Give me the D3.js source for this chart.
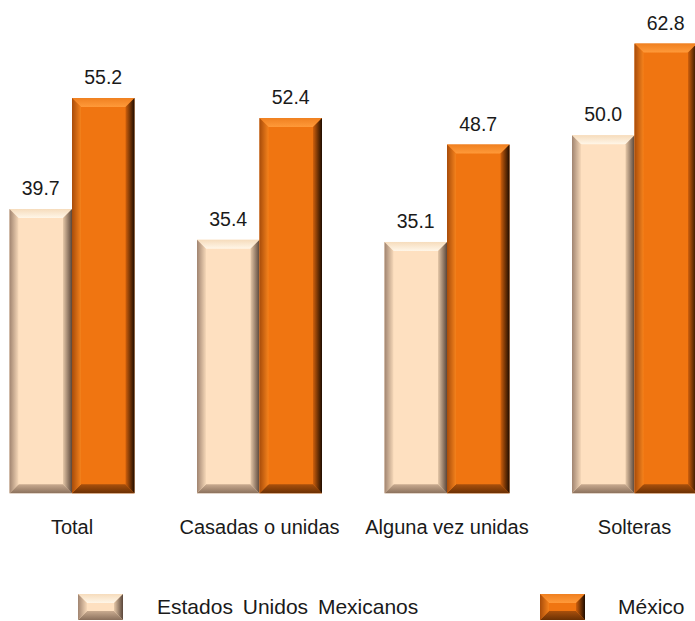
<!DOCTYPE html>
<html><head><meta charset="utf-8">
<script src="https://cdn.jsdelivr.net/npm/d3@7"></script>
<style>
html,body{margin:0;padding:0;background:#fff;}
text{font-family:"Liberation Sans",Arial,sans-serif;fill:#1a1a1a;}
</style></head>
<body>
<svg id="chart" width="695" height="621"></svg>
<script>
const categories = ["Total", "Casadas o unidas", "Alguna vez unidas", "Solteras"];
const seriesNames = ["Estados Unidos Mexicanos", "México"];
const usValues = [39.7, 35.4, 35.1, 50.0];
const mxValues = [55.2, 52.4, 48.7, 62.8];

const W = 695, H = 621;
const svg = d3.select("#chart");
const defs = svg.append("defs");

const palettes = [
  {face:"#fee0c0", top:"#fff6e8", topEdge:"#f6dcbc", left0:"#a08470", left1:"#f6d8b8", right0:"#e6c8a8", right1:"#5a463a", bottom0:"#8a705c", bottom1:"#c9ab90"},
  {face:"#f07511", top:"#ff9a3a", topEdge:"#f08020", left0:"#a84c0a", left1:"#f5821c", right0:"#d0600c", right1:"#1e0c00", bottom0:"#6a3004", bottom1:"#a9500c"}
];

function grad(id, x1,y1,x2,y2, c0, c1){
  const g = defs.append("linearGradient").attr("id", id)
    .attr("x1",x1).attr("y1",y1).attr("x2",x2).attr("y2",y2);
  g.append("stop").attr("offset","0%").attr("stop-color",c0);
  g.append("stop").attr("offset","100%").attr("stop-color",c1);
}
palettes.forEach((p,i)=>{
  grad("L"+i,0,0,1,0,p.left0,p.left1);
  grad("R"+i,0,0,1,0,p.right0,p.right1);
  grad("T"+i,0,0,0,1,p.topEdge,p.top);
  grad("B"+i,0,0,0,1,p.bottom1,p.bottom0);
});

const x0 = d3.scaleBand().domain(categories).range([-21.75, 728.25]);
const x1 = d3.scaleBand().domain(seriesNames)
  .range([x0.bandwidth()/2 - 62.5, x0.bandwidth()/2 + 62.5]);
const y = d3.scaleLinear().domain([0, 62.8]).range([493.3, 43.6]);

function bevelBar(g, x, yTop, w, h, i){
  const b = Math.min(9, h/2);
  const xl = x, xr = x + w, yt = yTop, yb = yTop + h;
  g.append("rect").attr("x",xl).attr("y",yt).attr("width",w).attr("height",h).attr("fill",palettes[i].face);
  g.append("polygon").attr("points",[[xl,yt],[xr,yt],[xr-b,yt+b],[xl+b,yt+b]].join(" ")).attr("fill","url(#T"+i+")");
  g.append("polygon").attr("points",[[xl,yb],[xr,yb],[xr-b,yb-b],[xl+b,yb-b]].join(" ")).attr("fill","url(#B"+i+")");
  g.append("polygon").attr("points",[[xl,yt],[xl+b,yt+b],[xl+b,yb-b],[xl,yb]].join(" ")).attr("fill","url(#L"+i+")");
  g.append("polygon").attr("points",[[xr,yt],[xr-b,yt+b],[xr-b,yb-b],[xr,yb]].join(" ")).attr("fill","url(#R"+i+")");
}

const seriesData = [usValues, mxValues];
const groups = svg.selectAll("g.cat").data(categories).join("g")
  .attr("class","cat").attr("transform", d => `translate(${x0(d)},0)`);

groups.each(function(cat, ci){
  const g = d3.select(this);
  seriesNames.forEach((s, si) => {
    const v = seriesData[si][ci];
    const bx = x1(s), bw = x1.bandwidth();
    bevelBar(g, bx, y(v), bw, y(0) - y(v), si);
    g.append("text").attr("x", bx + bw/2).attr("y", y(v) - 14)
      .attr("text-anchor","middle").style("font-size","19.5px")
      .text(v.toFixed(1));
  });
  g.append("text").attr("x", x0.bandwidth()/2).attr("y", 534)
    .attr("text-anchor","middle").style("font-size","20px")
    .text(cat);
});

// legend
const legendPos = [{sx:78, tx:157}, {sx:540, tx:618}];
seriesNames.forEach((s, si) => {
  const lg = svg.append("g");
  const p = legendPos[si];
  bevelBar(lg, p.sx, 594, 45, 26, si);
  lg.append("text").attr("x", p.tx).attr("y", 614).style("font-size","21px")
    .attr("word-spacing","4px").text(s);
});
</script>
</body></html>
